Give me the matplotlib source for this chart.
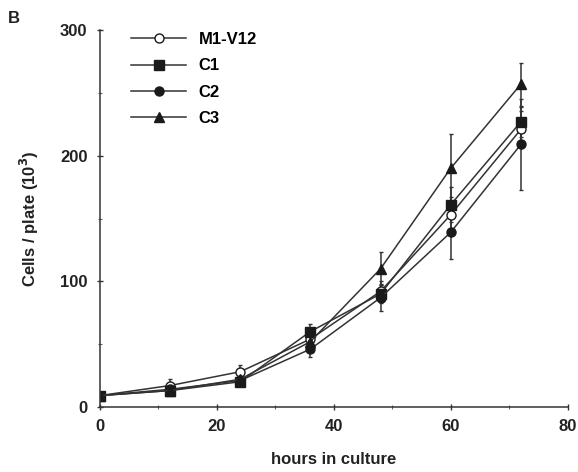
import matplotlib
matplotlib.use("Agg")
import matplotlib.pyplot as plt

plt.rcParams['font.family'] = ['Liberation Sans', 'DejaVu Sans']
plt.rcParams['font.weight'] = 'bold'

hours = [0, 12, 24, 36, 48, 60, 72]

m1_v12 = [9, 17, 28, 54, 92, 153, 221]
m1_err = [1, 5, 5, 6, 8, 14, 15]
c1 = [9, 13, 20, 60, 90, 161, 227]
c1_err = [1, 2, 3, 6, 7, 14, 12]
c2 = [9, 14, 21, 46, 87, 139, 209]
c2_err = [1, 2, 3, 6, 11, 21, 36]
c3 = [9, 13, 22, 52, 110, 190, 257]
c3_err = [1, 2, 3, 6, 13, 27, 17]

series = [
    ("M1-V12", m1_v12, m1_err, "o", "white"),
    ("C1", c1, c1_err, "s", "#1a1a1a"),
    ("C2", c2, c2_err, "o", "#1a1a1a"),
    ("C3", c3, c3_err, "^", "#1a1a1a"),
]

fig = plt.figure(figsize=(5.78, 4.72), dpi=100)
ax = fig.add_axes([0.173, 0.138, 0.809, 0.798])

line_col = "#333333"
for name, vals, err, mk, face in series:
    ax.errorbar(hours, vals, yerr=err, color=line_col, lw=1.1, elinewidth=1.1,
                capsize=1.5, marker=mk, markersize=6.5 if mk != "^" else 7,
                markerfacecolor=face, markeredgecolor="#1a1a1a", markeredgewidth=1,
                label=name)

ax.set_xlim(0, 80)
ax.set_ylim(0, 300)
ax.set_xticks(range(0, 81, 20))
ax.set_xticks(range(0, 81, 10), minor=True)
ax.set_yticks(range(0, 301, 100))
ax.set_yticks(range(0, 301, 50), minor=True)

for side in ("top", "right"):
    ax.spines[side].set_visible(False)
for side in ("left", "bottom"):
    ax.spines[side].set_color(line_col)
    ax.spines[side].set_linewidth(1.1)

ax.tick_params(axis="both", which="major", direction="inout", length=4,
               width=1, color=line_col, labelsize=12, colors="#222222")
ax.tick_params(axis="both", which="minor", direction="inout", length=3,
               width=0.8, color="#666666")
ax.tick_params(axis="x", pad=7)
ax.tick_params(axis="y", pad=7)

ax.set_xlabel("hours in culture", fontsize=12, fontweight="bold", labelpad=13,
              color="#222222")
ax.set_ylabel("Cells / plate (10$^3$)", fontsize=12, fontweight="bold", labelpad=14,
              color="#222222")

handles, labels = ax.get_legend_handles_labels()
handles = [h[0] for h in handles]
leg = ax.legend(handles, labels, loc="upper left", bbox_to_anchor=(0.035, 1.035),
                frameon=False, numpoints=1, handlelength=3.3, handletextpad=0.75,
                labelspacing=0.68, prop={"size": 12, "weight": "bold"})

fig.text(0.013, 0.952, "B", fontsize=12, fontweight="bold", color="#222222")

fig.savefig("out.png", dpi=100)
